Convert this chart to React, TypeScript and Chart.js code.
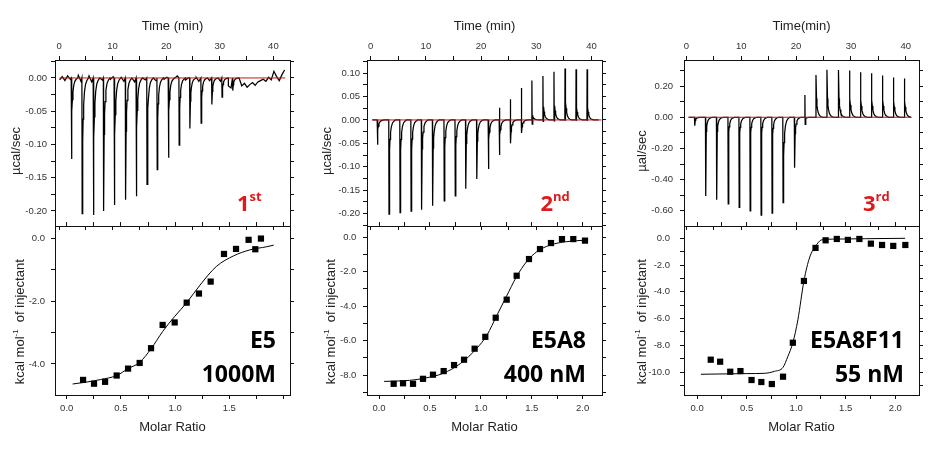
import React, { useEffect, useRef } from 'react';
import { Chart, registerables } from 'chart.js';

Chart.register(...registerables);

const SANS = '"Liberation Sans", Arial, "DejaVu Sans", sans-serif';
const HEAVY = '"Open Sans", "Noto Sans", sans-serif';
const RED_TEXT = '#dc1c1c';
const BASE_RED = '#c81414';

// ---------------- tick labels ----------------
const TIME_TICKS = [0, 10, 20, 30, 40];
const E5_RAW_TICKS = [0, -0.05, -0.1, -0.15, -0.2];
const E5A8_RAW_TICKS = [0.1, 0.05, 0, -0.05, -0.1, -0.15, -0.2];
const E5A8F11_RAW_TICKS = [0.2, 0, -0.2, -0.4, -0.6];
const E5_RATIO_TICKS = [0, 0.5, 1.0, 1.5];
const RATIO_TICKS = [0, 0.5, 1.0, 1.5, 2.0];
const E5_HEAT_TICKS = [0, -2, -4];
const E5A8_HEAT_TICKS = [0, -2, -4, -6, -8];
const E5A8F11_HEAT_TICKS = [0, -2, -4, -6, -8, -10];

// ---------------- texts ----------------
const PANEL_NAMES = ['E5', 'E5A8', 'E5A8F11'];
const PANEL_KD = ['1000M', '400 nM', '55 nM'];
const ROUND_NUM = ['1', '2', '3'];
const ROUND_SUF = ['st', 'nd', 'rd'];
const TIME_TITLES = ['Time (min)', 'Time (min)', 'Time(min)'];
const RAW_Y_TITLES = ['µcal/sec', 'µcal/sec', 'µal/sec'];
const HEAT_TITLE = ['kcal mol', '-1', '  of injectant'];
const RATIO_TITLE = 'Molar Ratio';

// ---------------- raw thermograms (time in min, µcal/sec) ----------------
// E5
const E5_INJ_T = [2.3, 4.3, 6.4, 8.3, 10.3, 12.4, 14.4, 16.4, 18.3, 20.4, 22.4, 24.4, 26.5, 28.5, 30.4, 32.4];
const E5_INJ_NEG = [-0.122, -0.204, -0.206, -0.2, -0.191, -0.183, -0.178, -0.16, -0.138, -0.12, -0.101, -0.076, -0.068, -0.04, -0.029, -0.019];
const E5_INJ_SH = [-0.05, -0.095, -0.09, -0.085, -0.085, -0.08, -0.075, -0.07, -0.06, -0.05, -0.045, -0.035, -0.03, -0.02, -0.015, -0.01];
const E5_NOISE_START = 0.1;
const E5_NOISE_STEP = 0.5;
const E5_NOISE = [
  -0.003, 0.002, -0.004, 0.003, -0.002, 0.001, 0.002, 0.004, -0.005, 0.0,
  -0.002, 0.003, -0.006, 0.004, 0.001, 0.003, -0.003, 0.005, 0.0, -0.002,
  0.002, -0.004, 0.003, 0.001, -0.005, 0.002, 0.004, -0.001, -0.006, 0.003,
  0.002, 0.004, -0.003, 0.001, 0.003, 0.0, -0.004, 0.002, 0.003, -0.002,
  0.001, 0.004, -0.002, 0.0, 0.003, 0.013, 0.002, -0.003, 0.0, -0.004,
  0.002, 0.001, -0.005, 0.002, -0.002, 0.001, -0.004, -0.003, -0.006, 0.0,
  -0.005, -0.007, -0.009, -0.012, -0.015, -0.011, -0.013, -0.009, -0.012, -0.008,
  -0.014, -0.01, -0.007, -0.011, -0.006, -0.004, -0.002, -0.005, 0.001, -0.003,
  0.01, 0.002, -0.004, 0.005, 0.012,
];
// E5A8
const E5A8_INJ_T = [1.2, 3.3, 5.3, 7.3, 9.2, 11.2, 13.3, 15.3, 17.2, 19.2, 21.3, 23.3, 25.3, 27.3, 29.2, 31.2, 33.2, 35.2, 37.2, 39.2];
const E5A8_INJ_NEG = [-0.053, -0.201, -0.198, -0.195, -0.192, -0.183, -0.173, -0.162, -0.147, -0.126, -0.105, -0.075, -0.05, -0.028, -0.009, -0.003, -0.002, -0.002, -0.002, -0.002];
const E5A8_INJ_POS = [0, 0, 0, 0, 0, 0, 0, 0, 0, 0, 0, 0.026, 0.044, 0.068, 0.084, 0.094, 0.103, 0.11, 0.108, 0.108];
const E5A8_INJ_SH = [-0.02, -0.064, -0.064, -0.063, -0.062, -0.06, -0.058, -0.055, -0.05, -0.045, -0.04, -0.032, -0.025, -0.015, 0.01, 0.028, 0.03, 0.038, 0.026, 0.026];
// E5A8F11
const E5A8F11_INJ_T = [1.5, 3.5, 5.5, 7.6, 9.6, 11.6, 13.6, 15.6, 17.6, 19.7, 21.6, 23.6, 25.6, 27.7, 29.7, 31.7, 33.7, 35.7, 37.7, 39.7];
const E5A8F11_INJ_NEG = [-0.054, -0.504, -0.528, -0.555, -0.578, -0.6, -0.628, -0.615, -0.547, -0.323, -0.045, 0, 0, 0, 0, 0, 0, 0, 0, 0];
const E5A8F11_INJ_POS = [0, 0, 0, 0, 0, 0, 0, 0, 0, 0, 0.143, 0.271, 0.305, 0.303, 0.3, 0.288, 0.282, 0.268, 0.255, 0.248];
const E5A8F11_INJ_SH = [-0.02, -0.09, -0.09, -0.095, -0.1, -0.1, -0.1, -0.11, -0.25, -0.105, -0.01, 0.12, 0.12, 0.12, 0.12, 0.11, 0.11, 0.11, 0.1, 0.1];

// recovery profile after each injection (minutes after injection, fraction of shoulder)
const TAIL_DT = [0.12, 0.2, 0.3, 0.45, 0.65, 0.9, 1.2];
const TAIL_FRAC = [1, 0.65, 0.42, 0.22, 0.1, 0.04, 0];

// trace & baseline spans (min)
const TRACE_SPAN = [[0.1, 42.3], [0.3, 41.3], [0.4, 41.0]];
const BASELINE_SPAN = [[0.1, 42.2], [0.3, 41.8], [0.4, 41.0]];

// ---------------- binding isotherms ----------------
const E5_RATIO = [0.151, 0.252, 0.354, 0.461, 0.566, 0.673, 0.778, 0.885, 0.996, 1.107, 1.22, 1.328, 1.451, 1.562, 1.678, 1.74, 1.792];
const E5_HEAT = [-4.51, -4.63, -4.57, -4.37, -4.15, -3.97, -3.5, -2.76, -2.68, -2.05, -1.76, -1.38, -0.5, -0.34, -0.05, -0.35, -0.01];
const E5_FIT_X = [0.055, 0.18, 0.31, 0.461, 0.566, 0.673, 0.778, 0.885, 0.996, 1.107, 1.23, 1.38, 1.54, 1.69, 1.845, 1.91];
const E5_FIT_Y = [-4.64, -4.58, -4.5, -4.37, -4.15, -3.95, -3.52, -2.97, -2.49, -2.05, -1.49, -0.9, -0.56, -0.37, -0.27, -0.22];

const E5A8_RATIO = [0.144, 0.236, 0.334, 0.432, 0.53, 0.635, 0.737, 0.835, 0.939, 1.044, 1.146, 1.254, 1.352, 1.473, 1.581, 1.689, 1.797, 1.908, 2.023];
const E5A8_HEAT = [-8.51, -8.48, -8.51, -8.22, -7.98, -7.77, -7.42, -7.11, -6.47, -5.78, -4.67, -3.62, -2.23, -1.26, -0.68, -0.33, -0.1, -0.1, -0.19];
const E5A8_FIT_X = [0.05, 0.3, 0.45, 0.63, 0.8, 0.96, 1.06, 1.16, 1.25, 1.35, 1.45, 1.55, 1.68, 1.84, 2.04];
const E5A8_FIT_Y = [-8.37, -8.31, -8.18, -7.9, -7.33, -6.45, -5.68, -4.5, -3.45, -2.29, -1.41, -0.83, -0.45, -0.25, -0.16];

const E5A8F11_RATIO = [0.137, 0.232, 0.334, 0.437, 0.549, 0.648, 0.754, 0.867, 0.966, 1.078, 1.195, 1.297, 1.41, 1.522, 1.638, 1.754, 1.867, 1.98, 2.102];
const E5A8F11_HEAT = [-9.08, -9.23, -9.98, -9.93, -10.6, -10.75, -10.9, -10.35, -7.81, -3.19, -0.72, -0.15, -0.05, -0.12, -0.05, -0.4, -0.5, -0.57, -0.5];
const E5A8F11_FIT_X = [0.038, 0.3, 0.5, 0.676, 0.78, 0.867, 0.915, 0.966, 1.017, 1.078, 1.137, 1.195, 1.256, 1.4, 1.7, 2.1];
const E5A8F11_FIT_Y = [-10.17, -10.14, -10.12, -10.1, -9.95, -9.65, -8.85, -7.81, -6.1, -3.19, -1.4, -0.6, -0.12, -0.06, -0.03, 0.0];

// ---------------- layout (pixels) ----------------
const BOX_LEFT = [55, 367, 684];
const BOX_W = 235;
const BOX_TOP = 60;
const BOX_MID = 226;
const BOX_BOTTOM = 395;
const Y_AXIS_W = 55;
const RIGHT_W = 12;
const RAW_BOTTOM_H = 22;
const ISO_TOP_H = 22;
const ISO_BOTTOM_H = 454 - BOX_BOTTOM;

type Range = { min: number; max: number; step: number };
const TIME_RANGE: Range[] = [
  { min: -0.75, max: 43.1, step: 5 },
  { min: -0.67, max: 41.9, step: 5 },
  { min: -0.44, max: 42.4, step: 5 },
];
const RAW_RANGE: Range[] = [
  { min: -0.2226, max: 0.027, step: 0.025 },
  { min: -0.2265, max: 0.128, step: 0.025 },
  { min: -0.697, max: 0.367, step: 0.1 },
];
const RATIO_RANGE: Range[] = [
  { min: -0.108, max: 2.06, step: 0.25 },
  { min: -0.118, max: 2.19, step: 0.25 },
  { min: -0.133, max: 2.24, step: 0.25 },
];
const HEAT_RANGE: Range[] = [
  { min: -4.99, max: 0.39, step: 1 },
  { min: -9.16, max: 0.66, step: 1 },
  { min: -11.72, max: 0.92, step: 1 },
];
const RAW_Y_PAD = [4, 3, 7];
const HEAT_Y_PAD = [6, 6.6, 10];
const RAW_TITLE_X = [15, 326, 641.7];
const HEAT_TITLE_X = [19.5, 330.5, 641];
const LABEL_RIGHT = [276, 586, 904];
const ROUND_LEFT = [237, 540.5, 863];

const PANELS = [
  {
    injT: E5_INJ_T, injNeg: E5_INJ_NEG, injPos: null as number[] | null, injSh: E5_INJ_SH,
    noise: E5_NOISE as number[] | null, rawTicks: E5_RAW_TICKS,
    ratio: E5_RATIO, heat: E5_HEAT, fitX: E5_FIT_X, fitY: E5_FIT_Y,
    ratioTicks: E5_RATIO_TICKS, heatTicks: E5_HEAT_TICKS,
  },
  {
    injT: E5A8_INJ_T, injNeg: E5A8_INJ_NEG, injPos: E5A8_INJ_POS, injSh: E5A8_INJ_SH,
    noise: null, rawTicks: E5A8_RAW_TICKS,
    ratio: E5A8_RATIO, heat: E5A8_HEAT, fitX: E5A8_FIT_X, fitY: E5A8_FIT_Y,
    ratioTicks: RATIO_TICKS, heatTicks: E5A8_HEAT_TICKS,
  },
  {
    injT: E5A8F11_INJ_T, injNeg: E5A8F11_INJ_NEG, injPos: E5A8F11_INJ_POS, injSh: E5A8F11_INJ_SH,
    noise: null, rawTicks: E5A8F11_RAW_TICKS,
    ratio: E5A8F11_RATIO, heat: E5A8F11_HEAT, fitX: E5A8F11_FIT_X, fitY: E5A8F11_FIT_Y,
    ratioTicks: RATIO_TICKS, heatTicks: E5A8F11_HEAT_TICKS,
  },
];

type Pt = { x: number; y: number };

function buildTrace(i: number): Pt[] {
  const p = PANELS[i];
  const [start, end] = TRACE_SPAN[i];
  const lastDt = TAIL_DT[TAIL_DT.length - 1];
  const inWindow = (t: number) => p.injT.some((t0) => t >= t0 - 0.05 && t <= t0 + lastDt);
  const pts: Pt[] = [];
  if (p.noise) {
    p.noise.forEach((v, k) => {
      const t = E5_NOISE_START + k * E5_NOISE_STEP;
      if (t <= end && !inWindow(t)) pts.push({ x: t, y: v });
    });
  } else {
    pts.push({ x: start, y: 0 });
    pts.push({ x: end, y: 0 });
  }
  p.injT.forEach((t0, k) => {
    const neg = p.injNeg[k];
    const pos = p.injPos ? p.injPos[k] : 0;
    pts.push({ x: t0 - 0.03, y: 0 });
    if (pos && neg) {
      pts.push({ x: t0, y: pos });
      pts.push({ x: t0 + 0.05, y: neg });
    } else {
      pts.push({ x: t0 + 0.02, y: pos || neg });
    }
    TAIL_DT.forEach((dt, j) => pts.push({ x: t0 + dt, y: p.injSh[k] * TAIL_FRAC[j] }));
  });
  pts.sort((a, b) => a.x - b.x);
  return pts;
}

function fmt(v: number, list: number[], digits: number, tol: number): string {
  for (const l of list) {
    if (Math.abs(v - l) < tol) return Math.abs(l) < 1e-12 ? (0).toFixed(digits) : l.toFixed(digits);
  }
  return '';
}

function axis(
  ax: 'x' | 'y', position: string, range: Range, size: number,
  labels: number[] | null, digits: number, pad: number, title?: { text: string; top: number; bottom: number },
) {
  return {
    type: 'linear',
    axis: ax,
    position,
    min: range.min,
    max: range.max,
    afterFit: (s: any) => {
      if (ax === 'x') s.height = size;
      else s.width = size;
    },
    grid: { display: true, drawOnChartArea: false, drawTicks: true, tickLength: 4, color: '#111', lineWidth: 1 },
    border: { display: true, color: '#111', width: 1 },
    ticks: {
      display: !!labels,
      stepSize: range.step,
      includeBounds: false,
      autoSkip: false,
      maxRotation: 0,
      minRotation: 0,
      padding: pad,
      color: '#333',
      font: { family: SANS, size: 9.5 },
      callback: (v: any) => (labels ? fmt(Number(v), labels, digits, range.step / 4) : ''),
    },
    title: title
      ? { display: true, text: title.text, color: '#222', font: { family: SANS, size: 13 }, padding: { top: title.top, bottom: title.bottom } }
      : { display: false },
  };
}

type Run = { text: string; font: string; dy?: number };
type TextItem = { x: number; y: number; runs: Run[]; color: string; align: 'left' | 'center' | 'right'; rotate?: number };

function textPlugin(items: TextItem[], ox: number, oy: number) {
  return {
    id: 'panelTexts',
    afterDraw(chart: any) {
      const ctx = chart.ctx as CanvasRenderingContext2D;
      for (const it of items) {
        ctx.save();
        ctx.translate(it.x - ox, it.y - oy);
        if (it.rotate) ctx.rotate(it.rotate);
        ctx.fillStyle = it.color;
        ctx.textBaseline = 'alphabetic';
        ctx.textAlign = 'left';
        const widths = it.runs.map((r) => {
          ctx.font = r.font;
          return ctx.measureText(r.text).width;
        });
        const total = widths.reduce((a, b) => a + b, 0);
        let x = it.align === 'left' ? 0 : it.align === 'right' ? -total : -total / 2;
        it.runs.forEach((r, k) => {
          ctx.font = r.font;
          ctx.fillText(r.text, x, r.dy || 0);
          x += widths[k];
        });
        ctx.restore();
      }
    },
  };
}

const baseOptions = {
  responsive: false,
  animation: false,
  devicePixelRatio: 1,
  events: [],
  layout: { padding: 0 },
  plugins: { legend: { display: false }, tooltip: { enabled: false }, title: { display: false } },
};

function rawChart(i: number, canvas: HTMLCanvasElement, ox: number, oy: number) {
  const p = PANELS[i];
  const trace = buildTrace(i);
  const [b0, b1] = BASELINE_SPAN[i];
  const items: TextItem[] = [
    {
      x: RAW_TITLE_X[i], y: 151, color: '#222', align: 'center', rotate: -Math.PI / 2,
      runs: [{ text: RAW_Y_TITLES[i], font: `13px ${SANS}`, dy: 4.5 }],
    },
    {
      x: ROUND_LEFT[i], y: 211, color: RED_TEXT, align: 'left',
      runs: [
        { text: ROUND_NUM[i], font: `700 22px ${HEAVY}` },
        { text: ROUND_SUF[i], font: `700 13px ${HEAVY}`, dy: -10 },
      ],
    },
  ];
  return new Chart(canvas, {
    type: 'scatter',
    data: {
      datasets: [
        { data: [{ x: b0, y: 0 }, { x: b1, y: 0 }], showLine: true, borderColor: BASE_RED, borderWidth: 1, pointRadius: 0 },
        { data: trace, showLine: true, borderColor: '#000', borderWidth: 1.25, pointRadius: 0, tension: 0 },
      ],
    },
    options: {
      ...baseOptions,
      scales: {
        x: axis('x', 'top', TIME_RANGE[i], BOX_TOP, TIME_TICKS, 0, 4, { text: TIME_TITLES[i], top: 19, bottom: 0 }),
        x2: axis('x', 'bottom', TIME_RANGE[i], RAW_BOTTOM_H, null, 0, 0),
        y: axis('y', 'left', RAW_RANGE[i], Y_AXIS_W, p.rawTicks, 2, RAW_Y_PAD[i]),
        y2: axis('y', 'right', RAW_RANGE[i], RIGHT_W, null, 0, 0),
      },
    } as any,
    plugins: [textPlugin(items, ox, oy)],
  } as any);
}

function isoChart(i: number, canvas: HTMLCanvasElement, ox: number, oy: number) {
  const p = PANELS[i];
  const pts = p.ratio.map((x, k) => ({ x, y: p.heat[k] }));
  const fit = p.fitX.map((x, k) => ({ x, y: p.fitY[k] }));
  const bold = `700 23px ${HEAVY}`;
  const items: TextItem[] = [
    {
      x: HEAT_TITLE_X[i], y: 321.7, color: '#222', align: 'center', rotate: -Math.PI / 2,
      runs: [
        { text: HEAT_TITLE[0], font: `13px ${SANS}`, dy: 4.5 },
        { text: HEAT_TITLE[1], font: `8px ${SANS}`, dy: -1.5 },
        { text: HEAT_TITLE[2], font: `13px ${SANS}`, dy: 4.5 },
      ],
    },
    { x: LABEL_RIGHT[i], y: 348, color: '#000', align: 'right', runs: [{ text: PANEL_NAMES[i], font: bold }] },
    { x: LABEL_RIGHT[i], y: 382, color: '#000', align: 'right', runs: [{ text: PANEL_KD[i], font: bold }] },
  ];
  return new Chart(canvas, {
    type: 'scatter',
    data: {
      datasets: [
        { data: pts, pointStyle: 'rect', pointRadius: 4.4, backgroundColor: '#000', borderWidth: 0, showLine: false },
        { data: fit, showLine: true, borderColor: '#000', borderWidth: 1, pointRadius: 0, cubicInterpolationMode: 'monotone' },
      ],
    },
    options: {
      ...baseOptions,
      scales: {
        x: axis('x', 'bottom', RATIO_RANGE[i], ISO_BOTTOM_H, p.ratioTicks, 1, 4, { text: RATIO_TITLE, top: 0, bottom: 19 }),
        x2: axis('x', 'top', RATIO_RANGE[i], ISO_TOP_H, null, 0, 0),
        y: axis('y', 'left', HEAT_RANGE[i], Y_AXIS_W, p.heatTicks, 1, HEAT_Y_PAD[i]),
        y2: axis('y', 'right', HEAT_RANGE[i], RIGHT_W, null, 0, 0),
      },
    } as any,
    plugins: [textPlugin(items, ox, oy)],
  } as any);
}

function ChartCanvas(props: { left: number; top: number; width: number; height: number; make: (c: HTMLCanvasElement, ox: number, oy: number) => Chart }) {
  const ref = useRef<HTMLCanvasElement | null>(null);
  useEffect(() => {
    if (!ref.current) return;
    const chart = props.make(ref.current, props.left, props.top);
    return () => chart.destroy();
  }, []);
  return (
    <canvas
      ref={ref}
      width={props.width}
      height={props.height}
      style={{ position: 'absolute', left: props.left, top: props.top, width: props.width, height: props.height }}
    />
  );
}

export default function App() {
  const canvasW = Y_AXIS_W + BOX_W + RIGHT_W;
  return (
    <div style={{ position: 'fixed', left: 0, top: 0, width: 938, height: 454, background: '#fff', overflow: 'hidden' }}>
      {[0, 1, 2].map((i) => (
        <React.Fragment key={i}>
          <ChartCanvas
            left={BOX_LEFT[i] - Y_AXIS_W}
            top={0}
            width={canvasW}
            height={BOX_MID + RAW_BOTTOM_H}
            make={(c, ox, oy) => rawChart(i, c, ox, oy)}
          />
          <ChartCanvas
            left={BOX_LEFT[i] - Y_AXIS_W}
            top={BOX_MID - ISO_TOP_H}
            width={canvasW}
            height={ISO_TOP_H + (BOX_BOTTOM - BOX_MID) + ISO_BOTTOM_H}
            make={(c, ox, oy) => isoChart(i, c, ox, oy)}
          />
        </React.Fragment>
      ))}
    </div>
  );
}
